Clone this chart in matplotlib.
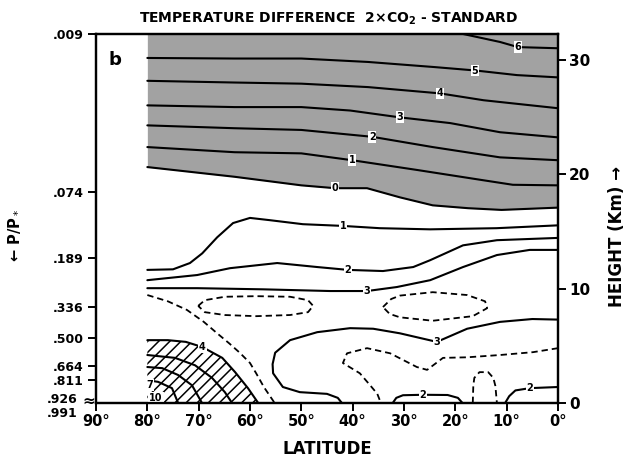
import matplotlib
matplotlib.use("Agg")
import matplotlib.pyplot as plt

# ---- data: isotherms of the temperature difference (2xCO2 - standard), lat (deg) / height (km)
# stratosphere (shaded region, cooling)
iso6_lat = [18.5, 11.3, 7.8, 0]
iso6_km = [32.3, 31.6, 31.15, 31.05]
iso5_lat = [80, 63, 50, 37, 24, 16, 8, 0]
iso5_km = [30.2, 30.15, 30.15, 29.85, 29.4, 29.1, 28.7, 28.5]
iso4_lat = [80, 63, 50, 37, 23, 14.5, 0]
iso4_km = [28.2, 28.05, 27.95, 27.65, 27.1, 26.5, 25.8]
iso3_lat = [80, 63, 50, 40.5, 30.8, 21, 11.3, 0]
iso3_km = [26.05, 25.9, 25.9, 25.6, 25.0, 24.5, 23.7, 23.25]
iso2_lat = [80, 63, 50, 36.2, 24.4, 11.3, 0]
iso2_km = [24.3, 24.05, 23.9, 23.3, 22.4, 21.5, 21.25]
iso1_lat = [80, 63, 50, 40.1, 27.5, 14.6, 8.8, 0]
iso1_km = [22.4, 21.95, 21.85, 21.25, 20.4, 19.5, 19.1, 19.05]
iso0_lat = [80, 63, 50, 43.4, 37.2, 30.8, 24.4, 17.5, 11, 0]
iso0_km = [20.65, 19.8, 19.05, 18.8, 18.8, 18.0, 17.3, 17.05, 16.9, 17.1]

# upper troposphere
trop1_lat = [80, 75, 71.7, 69.3, 66.4, 63.3, 60, 56.1, 49.7, 41.9, 34.7, 24.9, 12, 0]
trop1_km = [11.65, 11.7, 12.25, 13.1, 14.5, 15.75, 16.2, 16.0, 15.65, 15.5, 15.3, 15.2, 15.3, 15.55]
trop2_lat = [80, 70.3, 63.9, 54.7, 46.9, 40.9, 34.1, 28.2, 24.9, 18.5, 11.9, 0]
trop2_km = [10.75, 11.2, 11.8, 12.25, 11.9, 11.65, 11.55, 11.9, 12.5, 13.8, 14.25, 14.45]
trop3_lat = [80, 70.3, 57.5, 44.4, 37.2, 31.4, 24.9, 18.5, 11.9, 5.5, 0]
trop3_km = [10.05, 10.05, 9.95, 9.8, 9.8, 10.15, 10.75, 11.9, 12.95, 13.4, 13.4]

# dashed half-degree isotherms
ell1_lat = [70.1, 68.8, 64.9, 58.8, 52.2, 48.7, 47.7, 48.7, 52.2, 58.8, 64.9, 68.8, 70.1]
ell1_km = [8.5, 9.0, 9.3, 9.35, 9.3, 9.0, 8.5, 7.95, 7.7, 7.6, 7.7, 7.95, 8.5]
ell2_lat = [34.1, 32.5, 30.8, 24.4, 17.7, 14.2, 13.8, 16.6, 24.4, 30.8, 32.8, 34.1]
ell2_km = [8.4, 9.1, 9.4, 9.7, 9.45, 8.9, 8.3, 7.6, 7.2, 7.5, 7.8, 8.4]
diag_lat = [80, 76, 72.3, 69, 66.4, 64, 62, 60, 58.8, 57.3, 55.2]
diag_km = [9.45, 8.9, 8.15, 7.1, 6.1, 5.2, 4.4, 3.5, 2.6, 1.4, 0]
low25_lat = [0, 4.85, 11.3, 17.7, 22.4, 25.5, 27.5, 32.7, 37.2, 41.1, 41.9, 38.6, 36.5, 35.2, 34.5]
low25_km = [4.8, 4.45, 4.2, 4.0, 3.95, 2.9, 3.15, 4.35, 4.8, 4.35, 3.5, 2.6, 1.5, 0.8, 0]
tube_lat = [16.6, 16.5, 16.3, 15.3, 13.6, 12.6, 12.2, 11.9]
tube_km = [0, 1.5, 2.2, 2.7, 2.7, 2.2, 1.5, 0]

# lower troposphere
mid3_lat = [0, 5, 11.3, 17.7, 23.6, 30.8, 36, 40.5, 46.9, 50.3, 52.2, 55.1, 55.6, 55.5, 53.6, 50.3, 45.0, 42.9, 42.1]
mid3_km = [7.3, 7.35, 7.1, 6.5, 5.35, 6.1, 6.5, 6.55, 6.2, 5.75, 5.5, 4.4, 3.4, 2.6, 1.4, 0.95, 0.8, 0.45, 0]
arc2_lat = [32.2, 31.5, 30.2, 26.3, 21.5, 19.5, 18.6]
arc2_km = [0, 0.45, 0.68, 0.72, 0.7, 0.45, 0]
eq2_lat = [10.3, 9.5, 8.3, 5.5, 0]
eq2_km = [0, 0.6, 1.1, 1.3, 1.4]

# polar surface maximum (hatched)
pol4_lat = [80, 76, 72.5, 69.3, 65.4, 62.9, 60.4, 58.4]
pol4_km = [5.5, 5.5, 5.35, 4.9, 3.95, 2.7, 1.3, 0]
pol5_lat = [80, 74.6, 70.7, 67.4, 64.9, 63.5]
pol5_km = [4.2, 3.95, 3.3, 2.2, 0.95, 0]
pol6_lat = [80, 77.1, 74, 71.3, 69.35]
pol6_km = [3.15, 3.05, 2.45, 1.55, 0]
pol7_lat = [80, 77.9, 75.2, 74]
pol7_km = [2.0, 1.85, 1.3, 0]

# contour labels
lab_text = ["6", "5", "4", "3", "2", "1", "0", "1", "2", "3", "3", "2", "2", "4", "7", "10"]
lab_lat = [7.8, 16.2, 23.0, 30.8, 36.2, 40.1, 43.4, 41.9, 40.9, 37.2, 23.6, 26.3, 5.5, 69.3, 79.6, 78.3]
lab_km = [31.15, 29.1, 27.1, 25.0, 23.3, 21.3, 18.8, 15.5, 11.65, 9.8, 5.35, 0.72, 1.3, 4.9, 1.6, 0.45]

# axes
lat_ticks = [90, 80, 70, 60, 50, 40, 30, 20, 10, 0]
km_ticks = [0, 10, 20, 30]
sigma_labels = [".009", ".074", ".189", ".336", ".500", ".664", ".811"]
sigma_km = [32.3, 18.45, 12.7, 8.4, 5.7, 3.25, 2.0]

plt.rcParams['hatch.linewidth'] = 1.1

fig = plt.figure(figsize=(6.3, 4.59), dpi=100)
ax = fig.add_axes([0.1524, 0.122, 0.7333, 0.804])
ax.set_xlim(90, 0)
ax.set_ylim(0, 32.3)

# shaded stratosphere and hatched polar region
ax.fill_between(iso0_lat, iso0_km, 32.3, color='#a2a2a2', lw=0, zorder=1)
ax.fill(pol4_lat + [80], pol4_km + [0], facecolor='white', edgecolor='black',
        hatch='///', lw=0, zorder=1)

solid = [(iso6_lat, iso6_km), (iso5_lat, iso5_km), (iso4_lat, iso4_km), (iso3_lat, iso3_km),
         (iso2_lat, iso2_km), (iso1_lat, iso1_km), (iso0_lat, iso0_km),
         (trop1_lat, trop1_km), (trop2_lat, trop2_km), (trop3_lat, trop3_km),
         (mid3_lat, mid3_km), (arc2_lat, arc2_km), (eq2_lat, eq2_km),
         (pol4_lat, pol4_km), (pol5_lat, pol5_km), (pol6_lat, pol6_km), (pol7_lat, pol7_km)]
for xs, ys in solid:
    ax.plot(xs, ys, color='black', lw=1.5, zorder=3, solid_capstyle='round')

dashed = [(ell1_lat, ell1_km), (ell2_lat, ell2_km), (diag_lat, diag_km),
          (low25_lat, low25_km), (tube_lat, tube_km)]
for xs, ys in dashed:
    ax.plot(xs, ys, color='black', lw=1.3, ls=(0, (3.5, 2.2)), zorder=3)

for t, x, y in zip(lab_text, lab_lat, lab_km):
    ax.text(x, y, t, fontsize=7, fontweight='bold', ha='center', va='center', zorder=5,
            bbox=dict(facecolor='white', edgecolor='none', pad=0.6))

# ticks and spines
for s in ax.spines.values():
    s.set_linewidth(1.6)
ax.set_xticks(lat_ticks)
ax.set_xticklabels([f"{v}°" for v in lat_ticks], fontsize=10.5, fontweight='bold')
ax.set_yticks(sigma_km)
ax.set_yticklabels(sigma_labels, fontsize=9, fontweight='bold')
ax.tick_params(axis='both', direction='out', length=6, width=1.4)
ax.tick_params(axis='x', pad=2)
ax.tick_params(axis='y', pad=3)

trans = ax.get_yaxis_transform()
ax.text(-0.04, 0.35, ".926", transform=trans, fontsize=9, fontweight='bold',
        ha='right', va='center', clip_on=False)
ax.text(-0.04, -0.95, ".991", transform=trans, fontsize=9, fontweight='bold',
        ha='right', va='center', clip_on=False)
ax.text(-0.016, 0.15, "≈", transform=trans, fontsize=11, fontweight='bold',
        ha='center', va='center', clip_on=False)

ax2 = ax.twinx()
ax2.set_ylim(0, 32.3)
ax2.set_yticks(km_ticks)
ax2.set_yticklabels([str(v) for v in km_ticks], fontsize=11, fontweight='bold')
ax2.tick_params(axis='y', direction='out', length=6, width=1.4, pad=2)
for s in ax2.spines.values():
    s.set_linewidth(1.6)

# texts
fig.text(0.522, 0.9586, "TEMPERATURE DIFFERENCE  2×CO$_\\mathbf{2}$ - STANDARD",
         fontsize=10, fontweight='bold', ha='center', va='center')
fig.text(0.1825, 0.869, "b", fontsize=13, fontweight='bold', ha='center', va='center')
fig.text(0.519, 0.0218, "LATITUDE", fontsize=12, fontweight='bold', ha='center', va='center')
fig.text(0.023, 0.486, "← P/P$_*$", fontsize=10.5, fontweight='bold', rotation=90,
         ha='center', va='center')
fig.text(0.979, 0.4837, "HEIGHT (Km) →", fontsize=12, fontweight='bold', rotation=90,
         ha='center', va='center')

fig.savefig("out.png", dpi=100)
